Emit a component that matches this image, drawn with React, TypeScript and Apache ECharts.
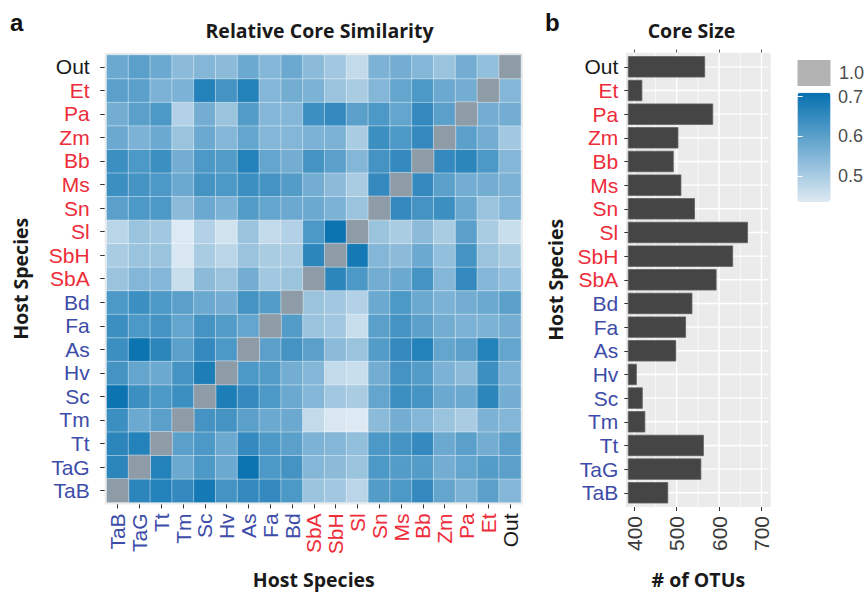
import React, { useEffect, useRef } from 'react';
import * as echarts from 'echarts';

// Categories (bottom-to-top on the y axes, left-to-right on the heatmap x axis)
const species = ['TaB', 'TaG', 'Tt', 'Tm', 'Sc', 'Hv', 'As', 'Fa', 'Bd', 'SbA', 'SbH', 'Sl', 'Sn', 'Ms', 'Bb', 'Zm', 'Pa', 'Et', 'Out'];
const redSpecies = ['SbA', 'SbH', 'Sl', 'Sn', 'Ms', 'Bb', 'Zm', 'Pa', 'Et'];
const blueSpecies = ['TaB', 'TaG', 'Tt', 'Tm', 'Sc', 'Hv', 'As', 'Fa', 'Bd'];

// Relative core similarity, one row per host species (columns in `species` order)
const simTaB = [1, 0.66, 0.67, 0.65, 0.69, 0.63, 0.65, 0.65, 0.62, 0.52, 0.51, 0.48, 0.61, 0.62, 0.65, 0.59, 0.56, 0.60, 0.55];
const simTaG = [0.66, 1, 0.67, 0.58, 0.62, 0.58, 0.70, 0.62, 0.63, 0.55, 0.54, 0.52, 0.62, 0.61, 0.61, 0.57, 0.59, 0.61, 0.60];
const simTt = [0.66, 0.67, 1, 0.60, 0.62, 0.58, 0.65, 0.62, 0.60, 0.56, 0.55, 0.53, 0.62, 0.63, 0.65, 0.58, 0.60, 0.57, 0.60];
const simTm = [0.64, 0.58, 0.60, 1, 0.63, 0.63, 0.60, 0.58, 0.58, 0.47, 0.44, 0.43, 0.54, 0.57, 0.55, 0.52, 0.50, 0.56, 0.55];
const simSc = [0.70, 0.64, 0.62, 0.64, 1, 0.68, 0.65, 0.62, 0.58, 0.55, 0.51, 0.50, 0.59, 0.64, 0.63, 0.58, 0.58, 0.66, 0.57];
const simHv = [0.63, 0.59, 0.58, 0.63, 0.68, 1, 0.62, 0.61, 0.57, 0.55, 0.47, 0.46, 0.57, 0.63, 0.61, 0.56, 0.54, 0.64, 0.56];
const simAs = [0.64, 0.70, 0.66, 0.60, 0.65, 0.62, 1, 0.60, 0.63, 0.60, 0.54, 0.52, 0.61, 0.65, 0.67, 0.59, 0.60, 0.67, 0.59];
const simFa = [0.64, 0.62, 0.63, 0.59, 0.63, 0.61, 0.59, 1, 0.61, 0.52, 0.51, 0.46, 0.60, 0.63, 0.60, 0.57, 0.56, 0.56, 0.57];
const simBd = [0.62, 0.64, 0.62, 0.60, 0.58, 0.57, 0.63, 0.61, 1, 0.52, 0.51, 0.49, 0.58, 0.62, 0.58, 0.56, 0.57, 0.58, 0.60];
const simSbA = [0.52, 0.55, 0.55, 0.46, 0.54, 0.52, 0.57, 0.51, 0.52, 1, 0.66, 0.62, 0.57, 0.58, 0.63, 0.55, 0.65, 0.55, 0.53];
const simSbH = [0.50, 0.52, 0.52, 0.44, 0.50, 0.48, 0.52, 0.50, 0.50, 0.66, 1, 0.69, 0.55, 0.54, 0.58, 0.53, 0.63, 0.52, 0.50];
const simSl = [0.48, 0.52, 0.51, 0.43, 0.49, 0.45, 0.52, 0.47, 0.49, 0.62, 0.70, 1, 0.52, 0.50, 0.54, 0.50, 0.60, 0.50, 0.46];
const simSn = [0.60, 0.62, 0.62, 0.54, 0.58, 0.56, 0.61, 0.59, 0.58, 0.58, 0.56, 0.52, 1, 0.65, 0.63, 0.64, 0.58, 0.52, 0.55];
const simMs = [0.64, 0.63, 0.62, 0.58, 0.63, 0.62, 0.64, 0.63, 0.61, 0.57, 0.54, 0.50, 0.65, 1, 0.65, 0.60, 0.57, 0.57, 0.56];
const simBb = [0.64, 0.62, 0.64, 0.57, 0.62, 0.61, 0.67, 0.59, 0.57, 0.63, 0.60, 0.55, 0.63, 0.65, 1, 0.65, 0.66, 0.62, 0.55];
const simZm = [0.58, 0.56, 0.58, 0.52, 0.58, 0.55, 0.59, 0.55, 0.55, 0.56, 0.56, 0.50, 0.64, 0.62, 0.65, 1, 0.60, 0.57, 0.51];
const simPa = [0.57, 0.60, 0.62, 0.49, 0.57, 0.52, 0.61, 0.55, 0.55, 0.64, 0.65, 0.60, 0.62, 0.59, 0.65, 0.60, 1, 0.57, 0.57];
const simEt = [0.60, 0.60, 0.56, 0.56, 0.67, 0.63, 0.67, 0.55, 0.57, 0.56, 0.52, 0.50, 0.55, 0.59, 0.62, 0.58, 0.57, 1, 0.55];
const simOut = [0.58, 0.60, 0.58, 0.54, 0.55, 0.54, 0.58, 0.55, 0.58, 0.54, 0.51, 0.47, 0.56, 0.57, 0.55, 0.52, 0.57, 0.53, 1];
const similarity = [simTaB, simTaG, simTt, simTm, simSc, simHv, simAs, simFa, simBd, simSbA, simSbH, simSl, simSn, simMs, simBb, simZm, simPa, simEt, simOut];

// Core size (# of OTUs), in `species` order
const coreSize = [480, 558, 564, 426, 420, 406, 499, 522, 537, 594, 633, 668, 543, 511, 493, 504, 586, 419, 567];

// Tick labels
const otuTicks = [400, 500, 600, 700];
const otuMinorTicks = [450, 550, 650];
const legendTicks = [0.5, 0.6, 0.7];

const RED = '#ee2c3a';
const BLUE = '#3d4ca8';
const SANS = 'Liberation Sans';
const TITLE_FONT = 'Open Sans';

const labelColor = (v: string) =>
  redSpecies.includes(v) ? RED : blueSpecies.includes(v) ? BLUE : '#1a1a1a';

const cells: number[][] = [];
similarity.forEach((row, r) => row.forEach((v, c) => cells.push([c, r, v])));
const offDiag = cells.filter((d) => d[2] < 1);
const diag = cells.filter((d) => d[2] >= 1);

const GRID_TOP = 55;
const GRID_H = 452.4;

function buildOption(): any {
  return {
    animation: false,
    backgroundColor: '#ffffff',
    grid: [
      {
        left: 106.7, top: GRID_TOP, width: 414.2, height: GRID_H,
        show: true, backgroundColor: '#ebebeb', borderColor: '#ebebeb', borderWidth: 4,
      },
      {
        left: 628.3, top: GRID_TOP, width: 140, height: GRID_H,
        show: true, backgroundColor: '#ebebeb', borderColor: '#ebebeb', borderWidth: 4.6,
      },
      { left: 797.5, top: 92.7, width: 33, height: 109, show: false },
    ],
    xAxis: [
      {
        gridIndex: 0, type: 'category', data: species, offset: 2,
        axisLine: { show: false },
        axisTick: { show: true, alignWithLabel: true, length: 4, lineStyle: { color: '#333' } },
        axisLabel: { interval: 0, rotate: 90, margin: 9, fontSize: 21, fontFamily: SANS, color: labelColor },
        splitLine: { show: false },
        name: 'Host Species', nameLocation: 'middle', nameGap: 64.6,
        nameTextStyle: { fontFamily: TITLE_FONT, fontWeight: 'bold', fontSize: 19.5, color: '#1a1a1a' },
      },
      {
        gridIndex: 1, type: 'value', min: 386, max: 716, offset: 2.4,
        axisLine: { show: false },
        axisTick: { show: true, length: 4, lineStyle: { color: '#333' }, customValues: otuTicks },
        axisLabel: { rotate: 90, margin: 9, fontSize: 21, fontFamily: SANS, color: '#3a3a3a', customValues: otuTicks },
        splitLine: { show: false },
        name: '# of OTUs', nameLocation: 'middle', nameGap: 62,
        nameTextStyle: { fontFamily: TITLE_FONT, fontWeight: 'bold', fontSize: 19.5, color: '#1a1a1a' },
      },
      {
        gridIndex: 1, type: 'value', min: 386, max: 716, position: 'top', offset: 2.4,
        axisLine: { show: false },
        axisTick: { show: true, length: 3, lineStyle: { color: '#555' }, customValues: otuTicks },
        axisLabel: { show: false },
        splitLine: { show: false },
      },
      { gridIndex: 2, type: 'value', min: 0, max: 1, show: false },
    ],
    yAxis: [
      {
        gridIndex: 0, type: 'category', data: species, offset: 2,
        axisLine: { show: false },
        axisTick: { show: true, alignWithLabel: true, length: 4.5, lineStyle: { color: '#333' } },
        axisLabel: { interval: 0, margin: 15, fontSize: 21, fontFamily: SANS, color: labelColor },
        splitLine: { show: false },
        name: 'Host Species', nameLocation: 'middle', nameGap: 74, nameRotate: 90,
        nameTextStyle: { fontFamily: TITLE_FONT, fontWeight: 'bold', fontSize: 19.5, color: '#1a1a1a' },
      },
      {
        gridIndex: 1, type: 'category', data: species,
        axisLine: { show: false },
        axisTick: { show: true, alignWithLabel: true, length: 4, lineStyle: { color: '#333' } },
        axisLabel: { interval: 0, margin: 10, fontSize: 21, fontFamily: SANS, color: labelColor },
        splitLine: { show: false },
        name: 'Host Species', nameLocation: 'middle', nameGap: 62.5, nameRotate: 90,
        nameTextStyle: { fontFamily: TITLE_FONT, fontWeight: 'bold', fontSize: 19.5, color: '#1a1a1a' },
      },
      {
        gridIndex: 2, type: 'value', min: 0.435, max: 0.71, position: 'right', z: 10,
        axisLine: { show: false },
        axisTick: { show: true, inside: true, length: 5, lineStyle: { color: '#ffffff', width: 1 }, customValues: legendTicks },
        axisLabel: {
          customValues: legendTicks, margin: 9, fontSize: 18, fontFamily: SANS, color: '#4d4d4d',
          formatter: (v: number) => v.toFixed(1),
        },
        splitLine: { show: false },
      },
      {
        gridIndex: 2, type: 'value', min: 0.435, max: 0.71, position: 'left', z: 10,
        axisLine: { show: false },
        axisTick: { show: true, inside: true, length: 5, lineStyle: { color: '#ffffff', width: 1 }, customValues: legendTicks },
        axisLabel: { show: false },
        splitLine: { show: false },
      },
    ],
    visualMap: [
      {
        type: 'continuous', seriesIndex: 0, min: 0.435, max: 0.71,
        left: 797.5, top: 92.7, itemWidth: 33, itemHeight: 109, padding: 0,
        calculable: false, hoverLink: false, z: 2,
        inRange: { color: ['#dde9f3', '#0570b0'] },
      },
      {
        type: 'continuous', seriesIndex: 1, min: 0, max: 1, show: false,
        inRange: { color: ['#8e9ca8', '#8e9ca8'] },
      },
    ],
    series: [
      {
        type: 'heatmap', xAxisIndex: 0, yAxisIndex: 0, data: offDiag,
        itemStyle: { borderColor: 'rgba(255,255,255,0.4)', borderWidth: 1 },
        emphasis: { disabled: true }, silent: true,
      },
      {
        type: 'heatmap', xAxisIndex: 0, yAxisIndex: 0, data: diag,
        itemStyle: { borderColor: 'rgba(255,255,255,0.4)', borderWidth: 1 },
        emphasis: { disabled: true }, silent: true,
      },
      {
        // vertical panel grid lines
        type: 'custom', xAxisIndex: 1, yAxisIndex: 1, z: 1, silent: true,
        data: [...otuTicks, ...otuMinorTicks].map((v) => [v, 0]),
        renderItem: (params: any, api: any) => {
          const v = api.value(0);
          const x = api.coord([v, 0])[0];
          const cs = params.coordSys;
          const ext = api.size([0, 1])[1] * 0.1;
          const major = otuTicks.includes(v);
          return {
            type: 'line',
            shape: { x1: x, y1: cs.y - ext, x2: x, y2: cs.y + cs.height + ext },
            style: { stroke: '#ffffff', lineWidth: major ? 1.4 : 0.7 },
          };
        },
      },
      {
        // horizontal panel grid lines at category centres
        type: 'custom', xAxisIndex: 1, yAxisIndex: 1, z: 1, silent: true,
        data: coreSize.map((v, i) => [v, i]),
        renderItem: (params: any, api: any) => {
          const y = api.coord([api.value(0), api.value(1)])[1];
          const cs = params.coordSys;
          return {
            type: 'line',
            shape: { x1: cs.x, y1: y, x2: cs.x + cs.width, y2: y },
            style: { stroke: '#ffffff', lineWidth: 1.4 },
          };
        },
      },
      {
        type: 'bar', xAxisIndex: 1, yAxisIndex: 1, data: coreSize, z: 3,
        barCategoryGap: '10%',
        itemStyle: { color: '#454545', borderColor: '#5f5f5f', borderWidth: 0.8 },
        emphasis: { disabled: true }, silent: true,
      },
    ],
    graphic: [
      {
        type: 'text', x: 10, y: 22,
        style: { text: 'a', font: `bold 24px "${SANS}"`, fill: '#111', textAlign: 'left', textVerticalAlign: 'middle', verticalAlign: 'middle' },
      },
      {
        type: 'text', x: 545, y: 22,
        style: { text: 'b', font: `bold 24px "${SANS}"`, fill: '#111', textAlign: 'left', textVerticalAlign: 'middle', verticalAlign: 'middle' },
      },
      {
        type: 'text', x: 319.5, y: 30,
        style: { text: 'Relative Core Similarity', font: `bold 19.5px "${TITLE_FONT}"`, fill: '#1a1a1a', textAlign: 'center', align: 'center', textVerticalAlign: 'middle', verticalAlign: 'middle' },
      },
      {
        type: 'text', x: 691.5, y: 30,
        style: { text: 'Core Size', font: `bold 19.5px "${TITLE_FONT}"`, fill: '#1a1a1a', textAlign: 'center', align: 'center', textVerticalAlign: 'middle', verticalAlign: 'middle' },
      },
      {
        type: 'rect', shape: { x: 797.5, y: 60, width: 33, height: 26 },
        style: { fill: '#b3b3b3' },
      },
      {
        type: 'text', x: 839, y: 73,
        style: { text: '1.0', font: `18px "${SANS}"`, fill: '#4d4d4d', textAlign: 'left', textVerticalAlign: 'middle', verticalAlign: 'middle' },
      },
    ],
  };
}

export default function App() {
  const ref = useRef<HTMLDivElement>(null);
  useEffect(() => {
    if (!ref.current) return;
    const chart = echarts.init(ref.current, null, { renderer: 'svg' });
    chart.setOption(buildOption());
    return () => chart.dispose();
  }, []);
  return (
    <div
      ref={ref}
      style={{ position: 'fixed', left: 0, top: 0, width: 866, height: 594, background: '#fff' }}
    />
  );
}
